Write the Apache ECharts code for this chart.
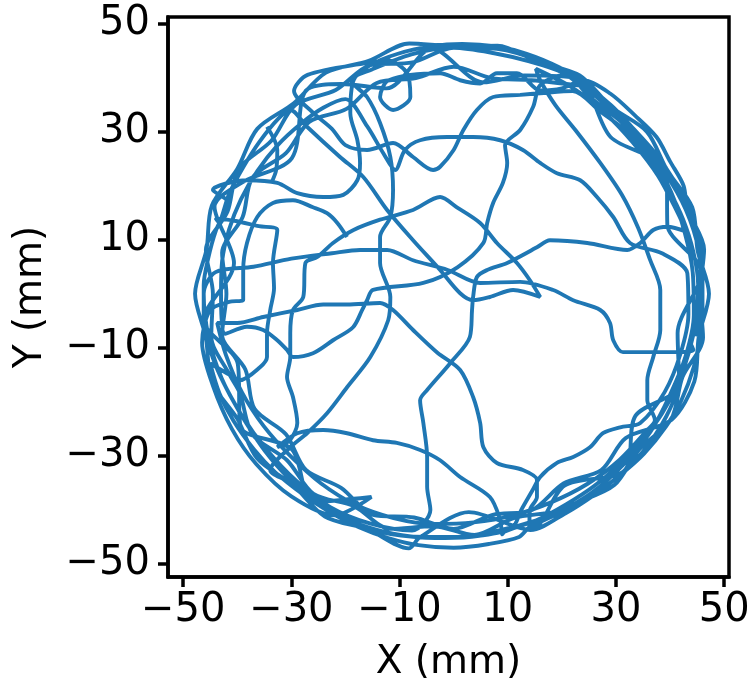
<!DOCTYPE html>
<html>
<head>
<meta charset="utf-8">
<script src="https://cdn.jsdelivr.net/npm/echarts@6/dist/echarts.min.js"></script>
<style>
  html, body { margin: 0; padding: 0; background: #fff; }
  #chart { width: 753px; height: 691px; }
</style>
</head>
<body>
<div id="chart"></div>
<script>
// trajectory, in mm, pieces in drawing order
var wallRightToHub = [[44.8,-7.9],[45.8,0],[45.3,8.0],[42.9,15.6],[39.0,22.5],[34.2,28.7],[28.8,34.3],[22.7,39.3],[15.7,43.1],[8.0,45.3],[0,45.6],[-7.8,44.3],[-15.1,41.5],[-19,39.5]];
var crossHubDown = [[-16.0,36.4],[-13.6,31.6],[-11.7,25.3],[-11.2,19.2],[-11.7,14.2],[-13.6,10.5],[-13.6,5.7],[-11.7,-0.6],[-12.1,-4.9],[-15.4,-11.7],[-19.7,-17.3],[-23.4,-22.1],[-27.1,-25.8],[-30.2,-28.4],[-33.9,-32.6]];
var wallBottomA = [[-29.6,-35.2],[-23.2,-40.2],[-15.8,-43.4],[-7.9,-44.9],[0,-45],[7.8,-43.9],[15.3,-41.9],[22.5,-39.0],[29.2,-34.8],[34.9,-29.3],[39.3,-22.7],[42.3,-15.4],[43.8,-9.3]];
var crossMiddleWest = [[44.3,-10.4],[41.9,-10.8],[34.5,-10.8],[31.3,-10.8],[29.5,-8.6],[28.9,-5.4],[27.1,-3.0],[22.1,-1.2],[18.4,0.7],[12.3,2.2],[4.9,2.0],[-1.1,4.4],[-7.5,6.2],[-12.3,8.1],[-17.3,8.1],[-22.5,7.5],[-30,6.5],[-37,5],[-44,4]];
var wallLeftA = [[-46.2,0],[-45.3,-8.0],[-42.9,-15.6],[-39.1,-22.6],[-34.5,-28.9],[-29.1,-34.6],[-22.8,-39.5],[-15.5,-42.5],[-7.7,-43.8]];
var crossBottomUp = [[-4.3,-40.0],[-4.9,-35.7],[-4.9,-30.2],[-5.6,-23.9],[-6.2,-19.7],[-4.9,-17.8],[-0.6,-12.8],[3.0,-8.0],[3.4,-3.0],[3.6,-0.6],[4.3,3.1],[6.2,4.4],[9.9,5.7],[15.4,8.6],[17.8,9.9],[24.7,9.4],[32.1,8.1],[34.5,9.4],[36.9,11.8],[39.5,12.4]];
var wallRightA = [[43.0,11.5],[41.4,15.0],[37.8,21.8],[33.2,27.9],[28.0,33.4],[22.0,38.1],[15.2,41.6]];
var crossEastDown = [[16.0,39.5],[18.8,34.9],[22.5,30.3],[27.1,24.2],[31.1,18.3],[34.1,12.2],[36.3,6.3],[38.2,0.7],[38.2,-6.7],[36.9,-11.7],[35.8,-16.0],[35.8,-19.7],[37.2,-23.4]];
var wallBottomB = [[35.9,-25.1],[30.7,-30.7],[24.7,-35.2],[18.0,-38.6],[11.0,-41.0],[3.7,-42.3],[-3.7,-42.6],[-11.1,-41.5],[-18.2,-39.0],[-24.5,-35.1],[-30.1,-30.1],[-35.1,-24.5],[-39.1,-18.3],[-42.1,-11.3],[-43.7,-5.4]];
var crossWestEast = [[-40.0,-5.4],[-35.2,-4.3],[-28.9,-3.0],[-24.1,-2.0],[-19.7,-2.0],[-13.6,-1.7],[-11.2,-3.0],[-7.5,-6.7],[-3.0,-10.9],[1.2,-14.1],[3.6,-19.1],[4.9,-23.9],[5.5,-28.4],[8.0,-31.3],[12.8,-32.6],[15.4,-34.4],[15.4,-37.6],[14.1,-40.0],[14,-43.5]];
var wallLoopA = [[14.2,-43.7],[20.7,-40.6],[26.0,-37.2],[31.1,-33.3],[35.2,-29.6],[39.3,-24.5],[42.1,-19.7],[44.4,-13.5],[45.5,-8.0],[46.0,-2.4],[46.0,4.0],[45.4,9.7],[43.4,15.8],[40.4,21.5],[37.2,26.1],[33.0,30.8],[29.2,34.8],[24.3,38.8],[19.5,41.9],[13.5,44.4],[8.1,45.7],[1.6,46.2],[-4.0,45.8],[-10.3,44.4],[-15.4,42.3],[-18.5,39.5]];
var crossHubWest = [[-19.1,33.4],[-17.8,28.4],[-17.3,24.2],[-17.8,21.0],[-20.4,18.3],[-24.1,17.9],[-28.9,18.6],[-32.6,20.5],[-38.2,21.0],[-44.5,19.2]];
var wallLeftB = [[-41.7,16.9],[-43.9,11.8],[-45.4,6.4],[-46.2,1.6],[-46.2,-4.0],[-45.2,-9.6],[-43.6,-14.2],[-41.1,-19.2],[-38.3,-24.0],[-34.8,-29.2],[-30.6,-34.0],[-25.7,-38.1],[-20.2,-41.5],[-14.2,-43.7],[-7.9,-44.9],[-1.6,-45.2],[4.7,-44.8],[10.8,-43.3]];
var crossLowerEast = [[12.5,-40],[14.5,-36.5],[16.0,-33.9],[19.1,-31.3],[22.1,-30.2],[25.2,-28.4],[27.6,-25.8],[30.8,-24.7],[34.5,-23.9],[39.0,-18.2],[41.9,-11.2],[43.4,-3.8],[43.2,3.8],[38.5,7.5],[32.6,9.4]];
var crossUpperWest = [[29.5,14.2],[26.5,17.9],[23.4,21.0],[19.1,22.3],[16.0,24.2],[12.8,26.6],[8.6,28.4],[3.6,29.0],[-1.2,29.0],[-6.2,28.4],[-9.0,26.6],[-10.8,22.9],[-13,26],[-16,31],[-20,36],[-24.1,34.4]];
var wallLeftC = [[-28.3,31.4],[-32.6,27.4],[-36.3,22.7],[-39.3,17.5],[-41.5,11.9],[-42.8,6.0],[-43,0],[-42.2,-7.4]];
var crossWestNorth = [[-38.2,-6.1],[-35.2,-6.7],[-32.6,-8.6],[-30.8,-10.4],[-29.7,-11.7],[-26.0,-11.0],[-22.3,-8.6],[-18.6,-6.2],[-16.9,-3.0],[-16.0,-1.2],[-14.9,0.7],[-5.6,2.0],[0.7,4.9],[5.5,9.4],[6.2,13.1],[7.3,16.8],[9.1,20.5],[9.9,24.2],[9.5,27.5],[12.3,30.3],[14.7,34.6],[16.0,38.6]];
var wallRightDown = [[20.5,40.5],[25.4,36.2],[31.4,31.4],[36.5,25.6],[40.2,18.8],[42.7,11.4],[44.2,3.9],[44.4,-3.9],[42.9,-11.5],[40.0,-18.7],[36.4,-25.5],[31.5,-31.5],[25.7,-36.7],[19.0,-40.8],[14.0,-43.2]];
var wallBottomC = [[12.1,-45.0],[6.5,-46.3],[0,-47],[-6.5,-46.5],[-12.1,-45.2],[-17.5,-43.2],[-23.2,-40.2],[-27.9,-37.1],[-33.0,-33.0],[-36.9,-28.8],[-40.7,-23.5],[-43.3,-18.4],[-45.0,-12.9],[-41.4,-15.0]];
var crossLeftLoop = [[-39.5,-16.0],[-35.8,-13.6],[-34.5,-11.7],[-34.5,-7.3],[-33.9,-3.0],[-33.2,1],[-33.4,5.7],[-32.6,11.8],[-36,12.5],[-40.5,13.5],[-44,14]];
var wallUpperLeft = [[-43.5,13.3],[-41.5,18.5],[-38.9,23.4],[-35.9,28.1],[-32.4,32.4]];
var crossDiagonal = [[-30.2,34.0],[-27.1,30.9],[-21.0,25.3],[-16.7,21.6],[-12.3,15.5],[-7.5,9.9],[-2.5,4.4],[1.2,0.1],[3.6,-1.2],[6.7,-0.6],[11.0,0.7],[16.0,-0.6],[14.1,2.5],[11.7,5.7],[8.0,9.4],[4.9,13.1],[0.6,16.0],[-2.5,17.9],[-7.5,15.5],[-13.6,13.7],[-18.5,11.8],[-22.3,9.4],[-25.2,6.8]];
var crossSouthWest = [[-27.4,5.7],[-27.8,-0.6],[-29.7,-3.0],[-30.2,-7.3],[-30.2,-11.7],[-30.8,-15.4],[-29.7,-19.1],[-28.9,-23.9],[-30.2,-27.0],[-32.6,-28.4],[-28.9,-25.8],[-24.1,-25.2],[-19.7,-25.8],[-14.9,-27.1],[-10.5,-27.6],[-6.2,-28.9],[-2.5,-30.8],[1.2,-33.9],[6.7,-37.6],[8.6,-41.8],[9,-44.5]];
var wallLoopB = [[9.4,-44.0],[15.3,-41.9],[20.7,-39.0],[25.9,-35.6],[30.6,-31.6],[34.8,-27.2],[38.5,-22.2],[41.4,-16.7],[43.5,-10.8],[44.8,-4.7],[45.2,1.6],[44.3,7.8],[42.4,13.8],[39.7,19.4],[36.5,24.6],[32.7,29.4],[27,33.8]];
var crossNorth = [[22,37.5],[16.0,37.1],[12.3,36.8],[7.3,36.4],[4.3,34.0],[1.8,30.3],[0,26.6],[-2.5,23.5],[-3.8,22.9],[-7.5,25.3],[-11.2,27.9],[-16.0,26.6],[-20,27.5],[-22.5,30.5],[-26,33.5],[-29.5,37.5],[-27,40.5]];
var topLoop = [[-16.0,42.7],[-12.3,43.2],[-8.6,40.8],[-8.0,36.4],[-11.2,34.0],[-13.6,36.4],[-12,39.5],[-2.5,40.8],[1.2,39.5],[4.9,38.9],[8.0,40.8],[11.7,40.8],[16.0,37.6],[20,38],[24,39.5],[29,37.0],[33.5,33.0],[37.5,29.0],[40,24.5],[42.5,20.0]];
var wallRightOuter = [[43.2,15.7],[46.3,8.2],[45.5,0],[46.1,-8.1],[42.3,-15.4],[40.2,-23.2],[34.3,-28.8],[29.7,-35.4],[22.4,-38.8]];
var wallBottomD = [[18.8,-40.3],[11.1,-41.5],[3.9,-44.6],[-3.8,-43.0],[-11.7,-43.5],[-18.4,-39.3],[-25.9,-37.0],[-30.8,-30.8],[-37.2,-26.0],[-39.5,-18.4]];
var wallLeftUp = [[-41.4,-15.0],[-44.8,-7.9],[-44.5,0],[-45.8,8.1],[-41.8,15.2],[-39.8,23.0],[-33.7,28.3],[-29.3,34.9],[-21.8,37.7],[-15.4,42.3],[-7.6,42.8],[0,45.5],[7.5,44.5],[14,43],[20,41],[23.5,38.5]];
var wallInnerRing = [[14.4,39.5],[7.0,39.9],[0,42],[-7.0,39.9],[-14.2,39.0],[-19.8,34.2],[-26.7,31.8],[-31.0,26.0],[-37.2,21.5],[-39.0,14.2],[-42.8,7.6],[-42,0],[-42.8,-7.6],[-38.5,-14.0],[-36.8,-21.3],[-31.0,-26.0],[-27.3,-32.6],[-20.8,-35.9],[-14.9,-40.9],[-7.3,-41.4],[0,-43.5],[7.2,-40.9],[14.5,-40.0],[20.3,-35.1],[27.3,-32.6],[31.8,-26.7]];
var wallOuterLoop = [[40.3,-23.3],[44.5,-16.2],[45.3,-8.0],[47.2,0],[45.1,8.0],[44.1,16.0],[39.5,22.8],[35.7,30.0],[29.1,34.6],[23.3,40.4],[15.6,42.9],[8.1,45.9],[0,45.8],[-8.2,46.3],[-15.7,43.1],[-23.6,40.9],[-29.6,35.2],[-36.3,30.5],[-40.0,23.1],[-44.7,16.3],[-45.7,8.1],[-47.8,0],[-45.8,-8.1],[-44.7,-16.3],[-40.0,-23.1],[-36.3,-30.5],[-29.7,-35.4],[-23.8,-41.2],[-15.9,-43.6],[-8.3,-47.1]];
var wallZigzag = [[-6.3,-45.1],[2.8,-40.4],[14.2,-43.7],[20.5,-35.5],[31.6,-32.7],[33.6,-22.6],[41.7,-16.9],[41.4,-7.3],[45.8,4.0],[39.5,12.8],[39.4,22.8],[29.0,29.0],[23.0,39.8],[13.1,40.4],[5.5,39.1],[-4.0,45.3],[-12.4,38.0],[-20.7,38.8],[-27.3,37.6],[-29.9,25.1],[-38.9,20.7],[-44.2,16.1],[-40.6,5.7],[-46.2,-4.9],[-39.9,-13.0],[-39.4,-24.6],[-29.9,-28.8],[-26.0,-38.5],[-15.2,-37.6]];
var wallLastRun = [[-22,-41],[-30,-37.5],[-36.5,-31.5],[-41,-25],[-44.5,-17],[-46.5,-9],[-45,-3],[-41.5,-1.5]];
var crossLast = [[-38.9,-1.1],[-38.9,4.4],[-38.2,9.4],[-36.3,14.2],[-33.4,16.8],[-29.7,17.3],[-26.0,16.0],[-23.4,14.9],[-21.5,13.1],[-19.7,10.5]];
var crossNorthWest = [[-34.5,30.9],[-32.6,26.6],[-32.8,22.9],[-33.7,20.5]];

var track = [].concat(wallRightToHub, crossHubDown, wallBottomA, crossMiddleWest, wallLeftA,
  crossBottomUp, wallRightA, crossEastDown, wallBottomB, crossWestEast, wallLoopA, crossHubWest,
  wallLeftB, crossLowerEast, crossUpperWest, wallLeftC, crossWestNorth, wallRightDown, wallBottomC,
  crossLeftLoop, wallUpperLeft, crossDiagonal, crossSouthWest, wallLoopB, crossNorth, topLoop,
  wallRightOuter, wallBottomD, wallLeftUp, wallInnerRing, wallOuterLoop, wallZigzag,
  wallLastRun, crossLast);

var tickValues = [-50, -30, -10, 10, 30, 50];

var myChart = echarts.init(document.getElementById('chart'));
var tickFont = { fontFamily: 'DejaVu Sans', fontSize: 40, color: '#000' };
var titleFont = { fontFamily: 'DejaVu Sans', fontSize: 39, color: '#000' };

function minus(v) {
    return String(v).replace('-', '\u2212');
}

var lineStyle = { color: '#1f77b4', width: 3.9 };

var option = {
    animation: false,
    backgroundColor: '#fff',
    grid: {
        left: 168, top: 17, right: 24, bottom: 114,
        show: true, borderColor: '#000', borderWidth: 3.5
    },
    xAxis: {
        type: 'value',
        min: -52.8, max: 50.9,
        name: 'X (mm)',
        nameLocation: 'middle',
        nameGap: 66,
        nameTextStyle: titleFont,
        axisLine: { show: true, onZero: false, lineStyle: { color: '#000', width: 3.5 } },
        axisTick: { show: true, customValues: tickValues, length: 10, lineStyle: { color: '#000', width: 3.5 } },
        axisLabel: Object.assign({ customValues: tickValues, margin: 14, formatter: minus }, tickFont),
        splitLine: { show: false }
    },
    yAxis: {
        type: 'value',
        min: -52.4, max: 51.2,
        name: 'Y (mm)',
        nameLocation: 'middle',
        nameGap: 118,
        nameTextStyle: titleFont,
        axisLine: { show: true, onZero: false, lineStyle: { color: '#000', width: 3.5 } },
        axisTick: { show: true, customValues: tickValues, length: 10, lineStyle: { color: '#000', width: 3.5 } },
        axisLabel: Object.assign({ customValues: tickValues, margin: 18, formatter: minus }, tickFont),
        splitLine: { show: false }
    },
    series: [{
        type: 'line',
        data: track,
        showSymbol: false,
        smooth: 0.3,
        lineStyle: lineStyle,
        clip: true
    }, {
        // short stroke near the upper left wall, drawn apart from the main walk
        type: 'line',
        data: crossNorthWest,
        showSymbol: false,
        smooth: 0.3,
        lineStyle: lineStyle,
        clip: true
    }]
};
myChart.setOption(option);
</script>
</body>
</html>
